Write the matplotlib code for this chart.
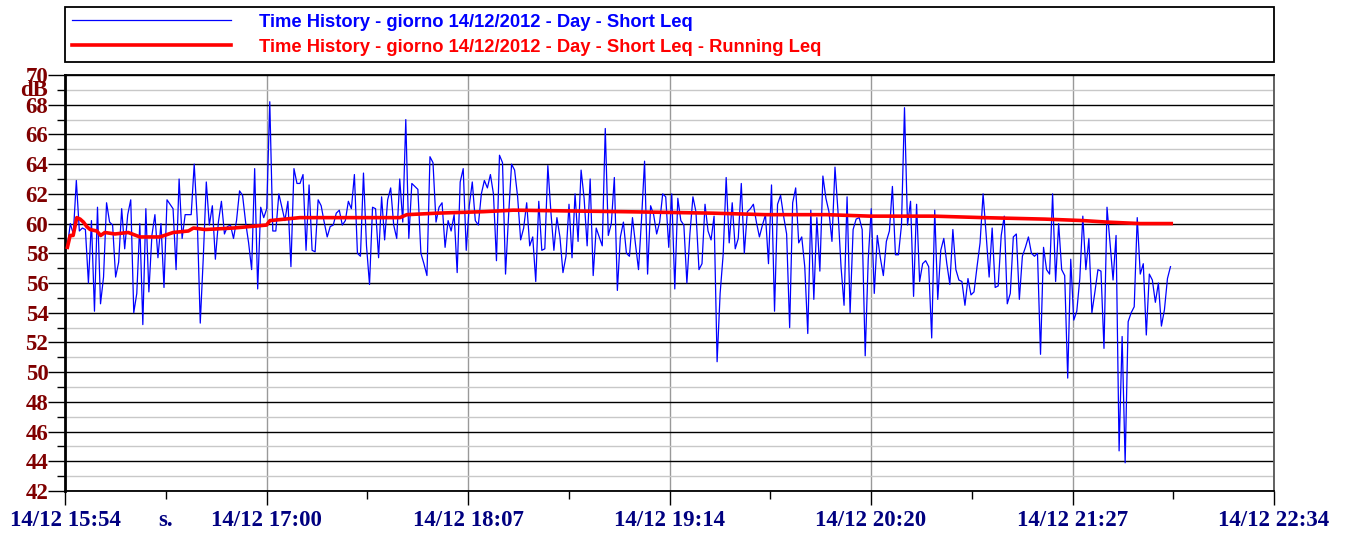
import numpy as np
import matplotlib.pyplot as plt
from matplotlib.ticker import MultipleLocator, FixedLocator
import matplotlib.transforms as mtransforms

# x in minutes since 14/12 15:54, one Short Leq sample per minute
start_min = 0.75
step_min = 1.0

short_leq = [
    # 15:55 - 16:40
    58.4, 60.0, 59.3, 62.9, 59.5, 59.7, 59.6, 56.0, 60.2, 54.1,
    61.1, 54.6, 56.4, 61.4, 60.1, 59.9, 56.4, 57.4, 61.0, 58.3,
    60.6, 61.6, 54.0, 55.3, 60.0, 53.2, 61.0, 55.4, 59.2, 60.6,
    57.7, 60.0, 55.7, 61.6, 61.3, 61.0, 56.9, 63.0, 59.0, 60.6,
    60.6, 60.6, 64.0, 60.3, 53.3, 57.7,
    # 16:41 - 17:26
    62.8, 59.9, 61.2, 57.6, 60.1, 61.5, 59.3, 59.8, 59.9, 59.0,
    60.2, 62.2, 61.9, 60.1, 58.7, 56.9, 63.7, 55.6, 61.1, 60.4,
    61.0, 68.2, 59.5, 59.5, 62.0, 61.1, 60.2, 61.5, 57.1, 63.7,
    62.7, 62.7, 63.3, 58.2, 62.6, 58.2, 58.1, 61.6, 61.2, 60.1,
    59.1, 59.8, 59.9, 60.7, 60.9, 59.9,
    # 17:27 - 18:13
    60.2, 61.5, 61.0, 63.3, 58.0, 57.8, 63.4, 58.5, 55.9, 61.1,
    61.0, 57.7, 61.8, 58.9, 61.6, 62.4, 59.9, 59.0, 63.0, 60.1,
    67.0, 59.0, 62.7, 62.5, 62.3, 58.0, 57.3, 56.5, 64.5, 64.1,
    60.1, 61.1, 61.4, 58.4, 60.2, 59.5, 60.6, 56.7, 62.8, 63.7,
    58.2, 61.2, 62.8, 60.2, 59.9, 62.0, 62.9,
    # 18:14 - 18:59
    62.4, 63.3, 62.0, 57.5, 64.6, 64.1, 56.6, 60.5, 64.0, 63.6,
    61.8, 58.9, 59.7, 61.4, 58.5, 59.1, 56.1, 61.5, 58.2, 58.3,
    63.9, 60.8, 58.2, 60.4, 59.1, 56.7, 57.8, 61.3, 57.7, 62.0,
    58.8, 63.6, 61.7, 58.5, 63.0, 56.5, 59.7, 59.1, 58.5, 66.4,
    59.2, 60.0, 63.1, 55.5, 59.1, 60.1,
    # 19:00 - 19:45
    58.0, 57.8, 60.4, 58.6, 56.9, 60.3, 64.2, 56.6, 61.2, 60.6,
    59.3, 60.1, 62.0, 61.8, 58.4, 62.0, 55.6, 61.7, 60.2, 59.9,
    56.0, 59.3, 61.8, 60.8, 56.9, 57.3, 61.3, 59.5, 58.9, 60.5,
    50.7, 55.3, 57.9, 63.1, 58.7, 61.4, 58.3, 59.0, 62.7, 58.0,
    60.8, 61.0, 61.3, 60.1, 59.1, 59.9,
    # 19:46 - 20:31
    60.6, 57.3, 62.6, 54.1, 61.3, 61.9, 60.5, 59.3, 53.0, 61.4,
    62.4, 58.7, 59.1, 57.1, 52.6, 60.9, 54.9, 60.4, 56.8, 63.2,
    61.7, 60.8, 58.8, 63.8, 60.8, 57.1, 54.5, 61.8, 54.0, 59.6,
    60.3, 60.4, 59.6, 51.1, 57.6, 61.0, 55.3, 59.2, 57.7, 56.5,
    58.8, 59.5, 62.5, 57.9, 57.9, 59.9,
    # 20:32 - 21:18
    67.8, 59.9, 61.5, 55.1, 61.3, 56.1, 57.3, 57.5, 57.1, 52.3,
    60.9, 54.9, 58.2, 59.0, 57.3, 55.9, 59.6, 56.9, 56.2, 56.1,
    54.5, 56.3, 55.2, 55.4, 57.1, 58.7, 62.0, 59.3, 56.4, 59.7,
    55.7, 55.8, 59.2, 60.5, 54.6, 55.3, 59.1, 59.3, 54.9, 57.8,
    58.4, 59.1, 58.0, 57.8, 58.0, 51.2, 58.4,
    # 21:19 - 22:00
    56.9, 56.6, 62.0, 56.1, 60.0, 56.9, 56.5, 49.6, 57.6, 53.5,
    54.1, 56.3, 60.5, 56.9, 59.0, 54.0, 55.4, 56.9, 56.8, 51.6,
    61.1, 58.7, 56.2, 59.2, 44.7, 52.4, 43.9, 53.4, 54.0, 54.4,
    60.4, 56.6, 57.3, 52.5, 56.6, 56.2, 54.7, 56.0, 53.1, 54.2,
    56.3, 57.1,
]

running_t = [0.8, 1.7, 2.7, 3.9, 5.0, 6.1, 7.2, 8.3, 10.5, 11.8, 13.2, 16.5,
             20.9, 24.8, 31.4, 35.8, 40.8, 42.5, 46.3, 55.7, 66.7, 67.8, 77.7,
             92.1, 110.8, 113.1, 123.0, 138.4, 148.3, 185.0, 214.5, 231.6,
             252.0, 266.3, 287.3, 303.8, 324.2, 336.9, 344.6, 355.7, 366.0]
running_leq = [58.4, 59.2, 59.2, 60.4, 60.3, 60.1, 59.8, 59.6, 59.5, 59.2, 59.4, 59.3,
               59.4, 59.1, 59.1, 59.4, 59.5, 59.7, 59.6, 59.7, 59.9, 60.2, 60.4,
               60.4, 60.4, 60.6, 60.7, 60.8, 60.9, 60.8, 60.7, 60.6,
               60.6, 60.5, 60.5, 60.4, 60.3, 60.2, 60.1, 60.0, 60.0]

x_ticklabels = ['14/12 15:54', '14/12 17:00', '14/12 18:07', '14/12 19:14',
                '14/12 20:20', '14/12 21:27', '14/12 22:34']
x_span = 400.0  # minutes shown on the axis

label_blue = 'Time History - giorno 14/12/2012 - Day - Short Leq'
label_red = 'Time History - giorno 14/12/2012 - Day - Short Leq - Running Leq'

serif_bold = dict(family='Liberation Serif', weight='bold', size=16.5)
dark_red = '#800000'
navy = '#000080'

fig = plt.figure(figsize=(13.45, 5.34), dpi=100)
ax = fig.add_axes([65/1345, 1-491/534, 1209/1345, 416/534])

t = start_min + step_min*np.arange(len(short_leq))
l1, = ax.plot(t, short_leq, color='#0000ff', lw=0.9, zorder=3)
l2, = ax.plot(running_t, running_leq, color='#ff0000', lw=2.6, zorder=4)

ax.set_xlim(0, x_span)
ax.set_ylim(42, 70)

major_x = np.linspace(0, x_span, len(x_ticklabels))
ax.xaxis.set_major_locator(FixedLocator(major_x))
ax.xaxis.set_minor_locator(FixedLocator((major_x[:-1]+major_x[1:])/2))
ax.set_xticklabels(x_ticklabels)
ax.yaxis.set_major_locator(MultipleLocator(2))
ax.yaxis.set_minor_locator(MultipleLocator(1))

ax.grid(axis='y', which='major', color='black', lw=1.0)
ax.grid(axis='y', which='minor', color='#c8c8c8', lw=1.0)
ax.grid(axis='x', which='major', color='#999999', lw=1.0)
ax.set_axisbelow(True)

ax.tick_params(axis='x', which='major', length=10, width=1, pad=3.6, labelcolor=navy)
ax.tick_params(axis='x', which='minor', length=6, width=1)
ax.tick_params(axis='y', which='major', length=12, width=1, pad=0, labelcolor=dark_red)
ax.tick_params(axis='y', which='minor', length=6, width=1)
for lab in ax.get_xticklabels() + ax.get_yticklabels():
    lab.set_fontproperties(serif_bold)

for side in ['top', 'bottom']:
    ax.spines[side].set_linewidth(1.3)
ax.spines['left'].set_linewidth(2)
ax.spines['right'].set_color('#555555')
ax.spines['right'].set_linewidth(1.3)

# unit labels
ax.text(-0.014, 68.95, 'dB', transform=mtransforms.blended_transform_factory(ax.transAxes, ax.transData),
        ha='right', va='center', color=dark_red, **serif_bold)
ax.text(x_span/12, -19/416, 's.', transform=mtransforms.blended_transform_factory(ax.transData, ax.transAxes),
        ha='center', va='top', color=navy, **serif_bold)

leg = ax.legend([l1, l2], [label_blue, label_red], loc='lower left',
                bbox_to_anchor=(0, 1.031, 1, 0.1), mode='expand', borderaxespad=0,
                handlelength=8.7, handletextpad=1.5, labelspacing=0.42, borderpad=0.36,
                fancybox=False, edgecolor='black', framealpha=1, labelcolor='linecolor',
                prop=dict(family='Liberation Sans', weight='bold', size=13.2))
leg.get_frame().set_linewidth(1.3)

fig.savefig('out.png', dpi=100)
